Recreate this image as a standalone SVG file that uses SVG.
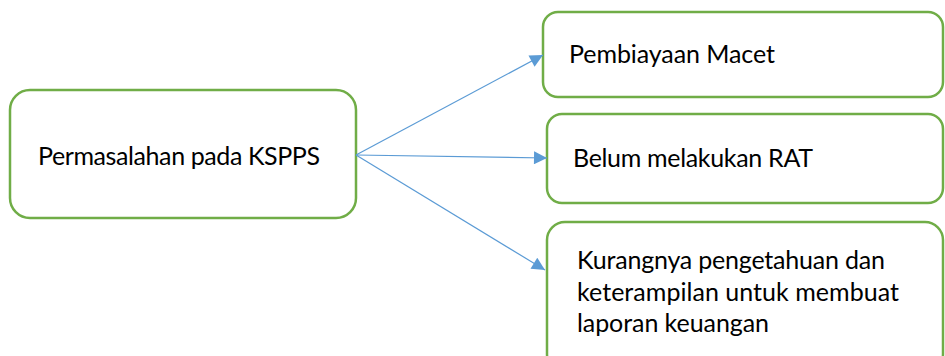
<svg xmlns="http://www.w3.org/2000/svg" width="945" height="356" viewBox="0 0 945 356">
<style>
.box{fill:#fff;stroke:#70AD47;stroke-width:2.5}
.lbl{font-family:Lato,"Liberation Sans",Arial,sans-serif;font-size:25px;fill:#000}
.con{stroke:#5B9BD5;stroke-width:1.2;fill:none;marker-end:url(#ah)}
</style>
<defs>
<marker id="ah" viewBox="0 0 10 10" refX="10" refY="5" markerWidth="15" markerHeight="13" markerUnits="userSpaceOnUse" orient="auto">
<path d="M0,0 L10,5 L0,10 z" fill="#5B9BD5"/>
</marker>
</defs>
<rect width="945" height="356" fill="#fff"/>
<g id="n-main">
<rect class="box" x="10" y="90" width="346" height="128" rx="20"/>
<text class="lbl" x="38" y="165" textLength="282">Permasalahan pada KSPPS</text>
</g>
<g id="n-macet">
<rect class="box" x="543" y="12" width="400" height="85" rx="15"/>
<text class="lbl" x="569" y="63" textLength="206">Pembiayaan Macet</text>
</g>
<g id="n-rat">
<rect class="box" x="547" y="114" width="396" height="89" rx="15"/>
<text class="lbl" x="573" y="167" textLength="240">Belum melakukan RAT</text>
</g>
<g id="n-kurang">
<rect class="box" x="547" y="222" width="396" height="150" rx="18"/>
<text class="lbl" x="577" y="269" textLength="308">Kurangnya pengetahuan dan</text>
<text class="lbl" x="577" y="301" textLength="322">keterampilan untuk membuat</text>
<text class="lbl" x="577" y="332" textLength="192">laporan keuangan</text>
</g>
<g id="connectors">
<line class="con" x1="356" y1="155" x2="543" y2="55"/>
<line class="con" x1="356" y1="155" x2="547" y2="158"/>
<line class="con" x1="356" y1="155" x2="545" y2="270"/>
</g>
</svg>
